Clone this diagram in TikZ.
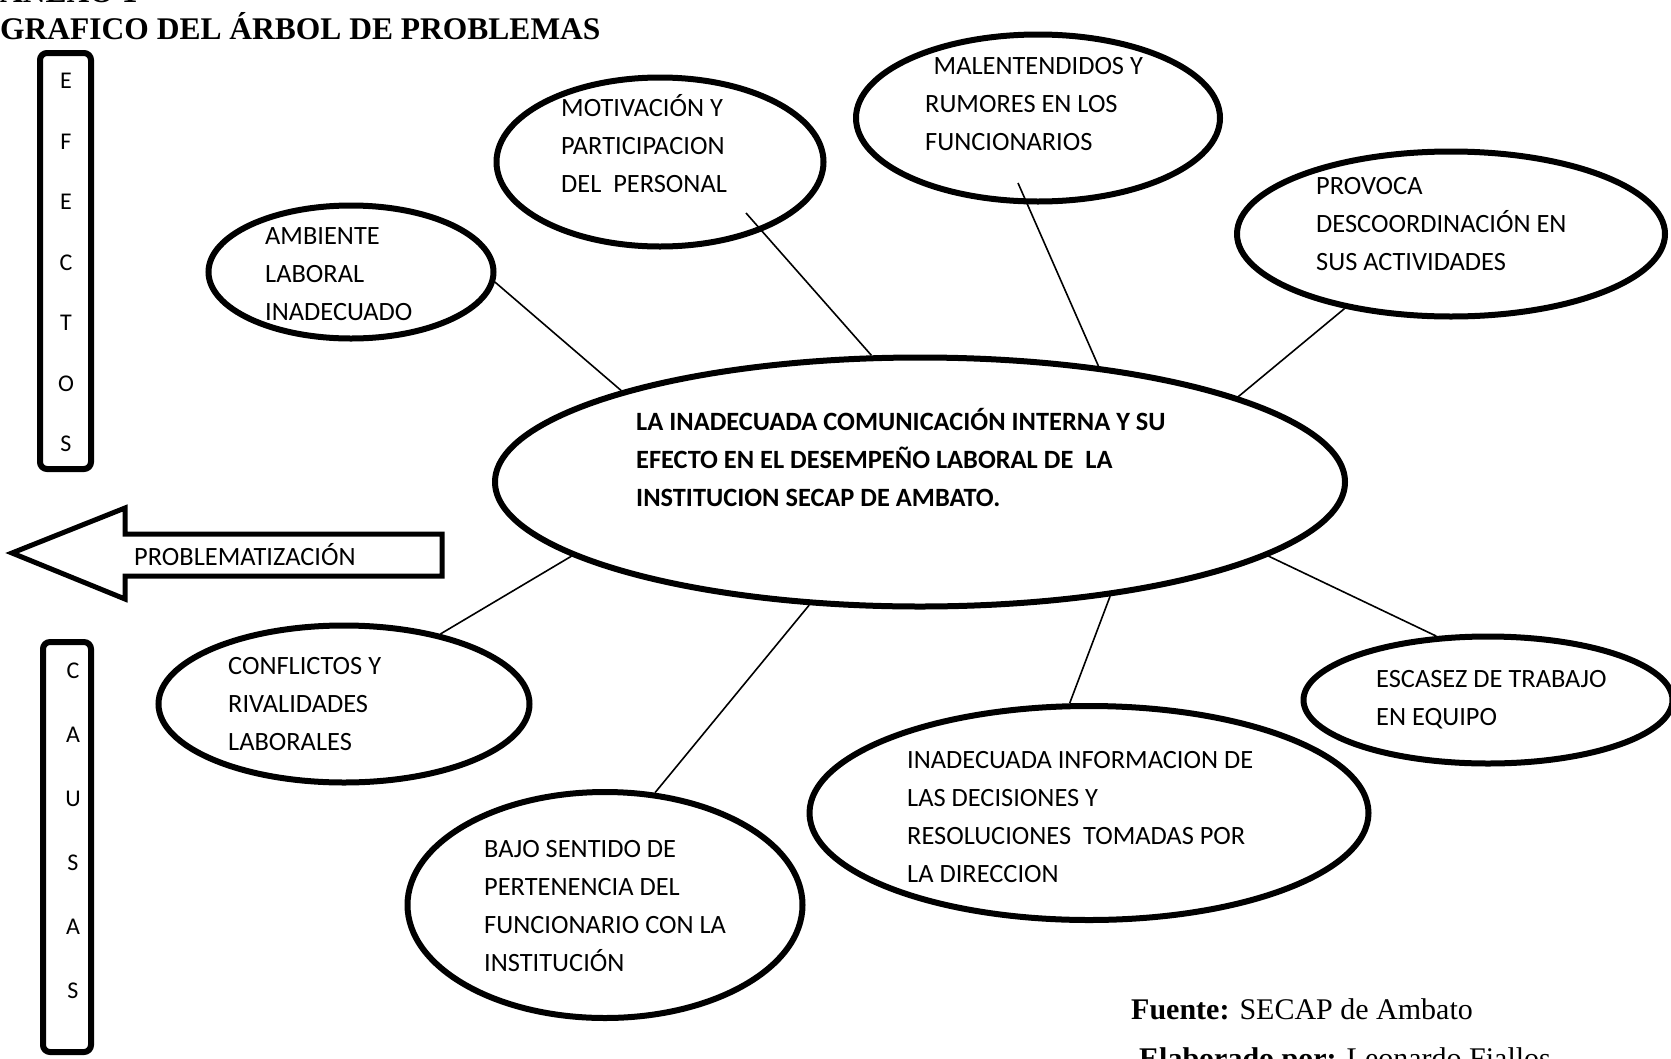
\documentclass[tikz,border=0pt]{standalone}
\usepackage{fontspec}
\setmainfont{Liberation Serif}
\newfontfamily\calibri{Carlito}
\usetikzlibrary{shapes.geometric}

\begin{document}
\begin{tikzpicture}[x=1pt, y=-1pt,
  burbuja/.style={draw, ellipse, line width=6pt, inner sep=0pt},
  texto/.style={font=\calibri\fontsize{26.4}{38}\selectfont, align=left, inner sep=0pt, anchor=west},
  rama/.style={line width=1.6pt},
  letra/.style={font=\calibri\fontsize{24}{28}\selectfont, inner sep=0pt},
  caja/.style={draw, line width=6pt, rounded corners=7pt, inner sep=0pt}]
  \useasboundingbox (0,0) rectangle (1671,1058);

  % encabezado
  \node[anchor=base west, inner sep=0pt, font=\bfseries\fontsize{31.5}{38}\selectfont] (anexo) at (0,2) {ANEXO 1};
  \node[anchor=base west, inner sep=0pt, font=\bfseries\fontsize{31.5}{38}\selectfont] (titulo) at (0,39) {GRAFICO DEL ÁRBOL DE PROBLEMAS};

  % efectos / causas
  \node[caja, minimum width=51pt, minimum height=416pt] (efectos) at (65.5,261) {};
  \foreach \l [count=\i] in {E,F,E,C,T,O,S}
    \node[letra] (ef\i) at (66,{81+60.5*(\i-1)}) {\l};
  \node[caja, minimum width=48pt, minimum height=410pt] (causas) at (67,847) {};
  \foreach \l [count=\i] in {C,A,U,S,A,S}
    \node[letra] (ca\i) at (73,{671+64*(\i-1)}) {\l};

  % flecha
  \draw[line width=5pt, line join=miter] (442,534) -- (125,534) -- (125,508) -- (12,553)
    -- (125,599) -- (125,576) -- (442,576) -- cycle;
  \node[texto] (probl) at (134,555) {PROBLEMATIZACIÓN};

  % problema central
  \node[burbuja, minimum width=850pt, minimum height=249pt] (cen) at (920,482) {};
  \node[texto, font=\calibri\bfseries\fontsize{26.4}{38}\selectfont] (cenT) at (636,458)
    {LA INADECUADA COMUNICACIÓN INTERNA Y SU\\EFECTO EN EL DESEMPEÑO LABORAL DE~ LA\\INSTITUCION SECAP DE AMBATO.};

  % efectos
  \node[burbuja, minimum width=285pt, minimum height=133pt] (amb) at (351,272) {};
  \node[texto] (ambT) at (265,274) {AMBIENTE\\LABORAL\\INADECUADO};
  \node[burbuja, minimum width=327pt, minimum height=169pt] (mot) at (660,162) {};
  \node[texto] (motT) at (561,144) {MOTIVACIÓN Y\\PARTICIPACION\\DEL~ PERSONAL};
  \node[burbuja, minimum width=364pt, minimum height=167pt] (mal) at (1038,118) {};
  \node[texto] (malT) at (925,104) {\hspace{8.5pt}MALENTENDIDOS Y\\RUMORES EN LOS\\FUNCIONARIOS};
  \node[burbuja, minimum width=428pt, minimum height=165pt] (pro) at (1451,234) {};
  \node[texto] (proT) at (1316,224) {PROVOCA\\DESCOORDINACIÓN EN\\SUS ACTIVIDADES};

  % causas
  \node[burbuja, minimum width=371pt, minimum height=157pt] (con) at (344,704) {};
  \node[texto] (conT) at (228,704) {CONFLICTOS Y\\RIVALIDADES\\LABORALES};
  \node[burbuja, minimum width=395pt, minimum height=226pt] (baj) at (605,905) {};
  \node[texto] (bajT) at (484,906) {BAJO SENTIDO DE\\PERTENENCIA DEL\\FUNCIONARIO CON LA\\INSTITUCIÓN};
  \node[burbuja, minimum width=559pt, minimum height=214pt] (inf) at (1089,813) {};
  \node[texto] (infT) at (907,817) {INADECUADA INFORMACION DE\\LAS DECISIONES Y\\RESOLUCIONES~ TOMADAS POR\\LA DIRECCION};
  \node[burbuja, minimum width=369pt, minimum height=127pt] (esc) at (1488,700) {};
  \node[texto] (escT) at (1376,700) {ESCASEZ DE TRABAJO\\EN EQUIPO};

  % ramas
  \draw[rama] (amb.-4) -- (cen.163);
  \draw[rama] ([shift={(86,51)}]mot.center) -- (cen.111);
  \draw[rama] ([shift={(-20,65)}]mal.center) -- (cen.33);
  \draw[rama] (pro.-145) -- (cen.15);
  \draw[rama] (con.36) -- (cen.192);
  \draw[rama] (baj.66) -- (cen.-132);
  \draw[rama] (inf.100) -- (cen.-31);
  \draw[rama] (esc.129) -- (cen.-12);

  % fuente
  \node[anchor=base west, inner sep=0pt, font=\fontsize{30}{36}\selectfont] (fuente) at (1131,1019)
    {\textbf{Fuente:} SECAP de Ambato};
  \node[anchor=base west, inner sep=0pt, font=\fontsize{30}{36}\selectfont] (elab) at (1139,1068)
    {\textbf{Elaborado por:} Leonardo Fiallos};
\end{tikzpicture}
\end{document}
